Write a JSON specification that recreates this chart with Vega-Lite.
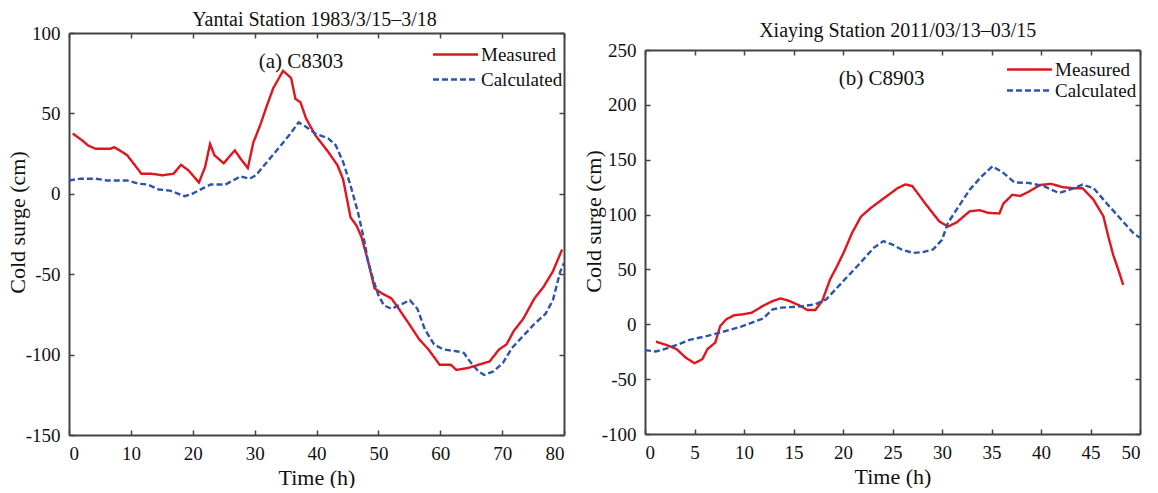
{
  "$schema": "https://vega.github.io/schema/vega-lite/v6.json",
  "padding": {"left": 6, "top": 10, "right": 5, "bottom": 0},
  "background": "white",
  "config": {
    "font": "Liberation Serif",
    "view": {"stroke": null},
    "axis": {"grid": false, "labelFont": "Liberation Serif", "labelFontSize": 19, "labelColor": "#111", "labelExpr": "replace(datum.label, '−', '-')", "titleFont": "Liberation Serif", "titleFontSize": 22, "titleFontWeight": "normal", "titleColor": "#111", "minExtent": 0},
    "axisX": {"titlePadding": 4},
    "axisY": {"titlePadding": -4},
    "title": {"font": "Liberation Serif", "fontSize": 20, "fontWeight": "normal", "color": "#111"},
    "legend": {"orient": "none", "title": null, "symbolType": "M-3,0H3", "symbolSize": 225, "symbolStrokeWidth": 2.4, "labelFont": "Liberation Serif", "labelFontSize": 19, "labelColor": "#111", "labelOffset": 16, "rowPadding": 5, "padding": 0}
  },
  "datasets": {
    "a": [
      {"t":0.6,"v":37.5,"s":"Measured"},{"t":2.2,"v":33,"s":"Measured"},{"t":3.1,"v":30,"s":"Measured"},{"t":4.3,"v":28,"s":"Measured"},{"t":6.7,"v":28,"s":"Measured"},{"t":7.3,"v":29,"s":"Measured"},{"t":8.2,"v":27,"s":"Measured"},{"t":9.4,"v":24,"s":"Measured"},{"t":10.6,"v":18,"s":"Measured"},{"t":11.7,"v":12.5,"s":"Measured"},{"t":13.3,"v":12.5,"s":"Measured"},{"t":15.1,"v":11.5,"s":"Measured"},{"t":16.9,"v":12.5,"s":"Measured"},{"t":18.1,"v":18,"s":"Measured"},{"t":19.3,"v":14.6,"s":"Measured"},{"t":21,"v":7,"s":"Measured"},{"t":22,"v":16.7,"s":"Measured"},{"t":22.8,"v":31,"s":"Measured"},{"t":23.5,"v":24,"s":"Measured"},{"t":25,"v":19,"s":"Measured"},{"t":26.8,"v":27,"s":"Measured"},{"t":27.7,"v":22,"s":"Measured"},{"t":28.9,"v":16,"s":"Measured"},{"t":29.8,"v":32,"s":"Measured"},{"t":30.9,"v":42.7,"s":"Measured"},{"t":32,"v":55,"s":"Measured"},{"t":33,"v":65.6,"s":"Measured"},{"t":34.6,"v":76.5,"s":"Measured"},{"t":35.9,"v":72,"s":"Measured"},{"t":36.6,"v":59,"s":"Measured"},{"t":37.4,"v":57,"s":"Measured"},{"t":38.3,"v":47,"s":"Measured"},{"t":39.8,"v":36.5,"s":"Measured"},{"t":41.9,"v":26,"s":"Measured"},{"t":43.4,"v":17.7,"s":"Measured"},{"t":44.3,"v":9,"s":"Measured"},{"t":45.5,"v":-14.6,"s":"Measured"},{"t":46.5,"v":-20,"s":"Measured"},{"t":47.3,"v":-27.2,"s":"Measured"},{"t":48.2,"v":-40,"s":"Measured"},{"t":49.4,"v":-58.9,"s":"Measured"},{"t":50.6,"v":-62,"s":"Measured"},{"t":52.1,"v":-65,"s":"Measured"},{"t":53.3,"v":-71.5,"s":"Measured"},{"t":54.8,"v":-80,"s":"Measured"},{"t":56.6,"v":-90.5,"s":"Measured"},{"t":58.1,"v":-96.8,"s":"Measured"},{"t":59.9,"v":-106.3,"s":"Measured"},{"t":61.7,"v":-106.3,"s":"Measured"},{"t":62.6,"v":-109.5,"s":"Measured"},{"t":64.4,"v":-108.4,"s":"Measured"},{"t":66.2,"v":-106.3,"s":"Measured"},{"t":68,"v":-104.2,"s":"Measured"},{"t":69.5,"v":-96.8,"s":"Measured"},{"t":70.7,"v":-93.7,"s":"Measured"},{"t":71.9,"v":-85.2,"s":"Measured"},{"t":73.4,"v":-77.8,"s":"Measured"},{"t":75.2,"v":-65.2,"s":"Measured"},{"t":76.7,"v":-57.8,"s":"Measured"},{"t":78.2,"v":-48.3,"s":"Measured"},{"t":79.7,"v":-34.6,"s":"Measured"},
      {"t":0,"v":8.3,"s":"Calculated"},{"t":1.9,"v":9.4,"s":"Calculated"},{"t":4.3,"v":9.4,"s":"Calculated"},{"t":6.1,"v":8.3,"s":"Calculated"},{"t":9.4,"v":8.3,"s":"Calculated"},{"t":11.2,"v":6.3,"s":"Calculated"},{"t":12.7,"v":5.8,"s":"Calculated"},{"t":14.5,"v":2.7,"s":"Calculated"},{"t":16.3,"v":2,"s":"Calculated"},{"t":18.7,"v":-1.5,"s":"Calculated"},{"t":19.9,"v":0,"s":"Calculated"},{"t":21.7,"v":3.5,"s":"Calculated"},{"t":22.9,"v":5.8,"s":"Calculated"},{"t":25.3,"v":5.8,"s":"Calculated"},{"t":26.5,"v":8.3,"s":"Calculated"},{"t":27.7,"v":10.8,"s":"Calculated"},{"t":29.2,"v":9.4,"s":"Calculated"},{"t":30.2,"v":11.5,"s":"Calculated"},{"t":32,"v":19.8,"s":"Calculated"},{"t":33.8,"v":28,"s":"Calculated"},{"t":35.6,"v":36.5,"s":"Calculated"},{"t":37.1,"v":44.4,"s":"Calculated"},{"t":38.3,"v":41.7,"s":"Calculated"},{"t":39.8,"v":37.5,"s":"Calculated"},{"t":41.9,"v":34.4,"s":"Calculated"},{"t":43.1,"v":30.2,"s":"Calculated"},{"t":44.3,"v":19.8,"s":"Calculated"},{"t":45.5,"v":5.2,"s":"Calculated"},{"t":46.7,"v":-11.5,"s":"Calculated"},{"t":47.9,"v":-32.3,"s":"Calculated"},{"t":48.2,"v":-40,"s":"Calculated"},{"t":49.1,"v":-52.5,"s":"Calculated"},{"t":50,"v":-63,"s":"Calculated"},{"t":50.9,"v":-69.4,"s":"Calculated"},{"t":52.1,"v":-71.5,"s":"Calculated"},{"t":53.3,"v":-69.4,"s":"Calculated"},{"t":55.1,"v":-66.2,"s":"Calculated"},{"t":56.3,"v":-71.5,"s":"Calculated"},{"t":57.5,"v":-84.2,"s":"Calculated"},{"t":59,"v":-93.7,"s":"Calculated"},{"t":60.5,"v":-96.8,"s":"Calculated"},{"t":62.6,"v":-97.9,"s":"Calculated"},{"t":63.8,"v":-98.9,"s":"Calculated"},{"t":65,"v":-105.3,"s":"Calculated"},{"t":66.2,"v":-110.5,"s":"Calculated"},{"t":67.1,"v":-112.7,"s":"Calculated"},{"t":68.6,"v":-110.5,"s":"Calculated"},{"t":70.1,"v":-105.3,"s":"Calculated"},{"t":71.6,"v":-95.8,"s":"Calculated"},{"t":73.4,"v":-88.4,"s":"Calculated"},{"t":75.2,"v":-81,"s":"Calculated"},{"t":77,"v":-74.7,"s":"Calculated"},{"t":78.2,"v":-66.2,"s":"Calculated"},{"t":79.4,"v":-48.3,"s":"Calculated"},{"t":80,"v":-43,"s":"Calculated"}
    ],
    "b": [
      {"t":1.1,"v":-15.8,"s":"Measured"},{"t":2.2,"v":-19,"s":"Measured"},{"t":3.2,"v":-22.7,"s":"Measured"},{"t":4.1,"v":-30.3,"s":"Measured"},{"t":5,"v":-35.5,"s":"Measured"},{"t":5.8,"v":-31.8,"s":"Measured"},{"t":6.3,"v":-22.7,"s":"Measured"},{"t":7.1,"v":-16.7,"s":"Measured"},{"t":7.6,"v":-1.5,"s":"Measured"},{"t":8.2,"v":4.5,"s":"Measured"},{"t":9,"v":8.2,"s":"Measured"},{"t":9.9,"v":9.1,"s":"Measured"},{"t":10.8,"v":10.6,"s":"Measured"},{"t":11.9,"v":16.7,"s":"Measured"},{"t":12.9,"v":21.2,"s":"Measured"},{"t":13.7,"v":23.6,"s":"Measured"},{"t":14.6,"v":21.2,"s":"Measured"},{"t":15.7,"v":16.7,"s":"Measured"},{"t":16.4,"v":13,"s":"Measured"},{"t":17.2,"v":13,"s":"Measured"},{"t":17.9,"v":21.2,"s":"Measured"},{"t":18.7,"v":41,"s":"Measured"},{"t":19.4,"v":53,"s":"Measured"},{"t":20.1,"v":66,"s":"Measured"},{"t":20.9,"v":83,"s":"Measured"},{"t":21.8,"v":98,"s":"Measured"},{"t":22.8,"v":106,"s":"Measured"},{"t":24.3,"v":116,"s":"Measured"},{"t":25.5,"v":124,"s":"Measured"},{"t":26.3,"v":127.5,"s":"Measured"},{"t":27,"v":126,"s":"Measured"},{"t":28.4,"v":109,"s":"Measured"},{"t":29.7,"v":94,"s":"Measured"},{"t":30.6,"v":89,"s":"Measured"},{"t":31.5,"v":93,"s":"Measured"},{"t":32.8,"v":103,"s":"Measured"},{"t":33.8,"v":104,"s":"Measured"},{"t":34.7,"v":101.5,"s":"Measured"},{"t":35.8,"v":101,"s":"Measured"},{"t":36.2,"v":110,"s":"Measured"},{"t":37.1,"v":118,"s":"Measured"},{"t":37.9,"v":117,"s":"Measured"},{"t":38.8,"v":121,"s":"Measured"},{"t":39.9,"v":127,"s":"Measured"},{"t":41,"v":128,"s":"Measured"},{"t":42.2,"v":125,"s":"Measured"},{"t":43.3,"v":124,"s":"Measured"},{"t":44.2,"v":124,"s":"Measured"},{"t":45.3,"v":113.6,"s":"Measured"},{"t":46.3,"v":98.5,"s":"Measured"},{"t":46.8,"v":80,"s":"Measured"},{"t":47.3,"v":63,"s":"Measured"},{"t":47.8,"v":50,"s":"Measured"},{"t":48.3,"v":36,"s":"Measured"},
      {"t":0,"v":-23.6,"s":"Calculated"},{"t":1.1,"v":-24.8,"s":"Calculated"},{"t":2.2,"v":-22,"s":"Calculated"},{"t":3.4,"v":-18.2,"s":"Calculated"},{"t":4.5,"v":-14.2,"s":"Calculated"},{"t":6.3,"v":-10.6,"s":"Calculated"},{"t":7.8,"v":-7,"s":"Calculated"},{"t":9.7,"v":-2.1,"s":"Calculated"},{"t":10.8,"v":1.5,"s":"Calculated"},{"t":11.9,"v":5.2,"s":"Calculated"},{"t":12.9,"v":13.6,"s":"Calculated"},{"t":13.8,"v":15.2,"s":"Calculated"},{"t":14.9,"v":15.8,"s":"Calculated"},{"t":16,"v":16.7,"s":"Calculated"},{"t":17.2,"v":18.2,"s":"Calculated"},{"t":18.3,"v":22.7,"s":"Calculated"},{"t":19.4,"v":33.3,"s":"Calculated"},{"t":20.5,"v":44,"s":"Calculated"},{"t":21.6,"v":54.5,"s":"Calculated"},{"t":23.1,"v":69.7,"s":"Calculated"},{"t":24.1,"v":75.8,"s":"Calculated"},{"t":25,"v":72.7,"s":"Calculated"},{"t":25.9,"v":68.2,"s":"Calculated"},{"t":27.1,"v":65,"s":"Calculated"},{"t":28.2,"v":66,"s":"Calculated"},{"t":29.1,"v":68.2,"s":"Calculated"},{"t":30,"v":77,"s":"Calculated"},{"t":30.6,"v":92.4,"s":"Calculated"},{"t":31.7,"v":107.6,"s":"Calculated"},{"t":32.8,"v":122.7,"s":"Calculated"},{"t":34,"v":134.8,"s":"Calculated"},{"t":35.1,"v":144,"s":"Calculated"},{"t":36.2,"v":138,"s":"Calculated"},{"t":37.3,"v":129.4,"s":"Calculated"},{"t":38.8,"v":128.8,"s":"Calculated"},{"t":40.3,"v":125.8,"s":"Calculated"},{"t":41.8,"v":119.7,"s":"Calculated"},{"t":42.9,"v":122.7,"s":"Calculated"},{"t":44.2,"v":127.3,"s":"Calculated"},{"t":45.3,"v":124.2,"s":"Calculated"},{"t":46.6,"v":110.6,"s":"Calculated"},{"t":48.1,"v":95.5,"s":"Calculated"},{"t":49.3,"v":83.3,"s":"Calculated"},{"t":50,"v":78.8,"s":"Calculated"}
    ]
  },
  "resolve": {"scale": {"color": "independent", "strokeDash": "independent"}},
  "spacing": 13,
  "hconcat": [
    {
      "width": 495, "height": 402,
      "title": {"text": "Yantai Station 1983/3/15–3/18", "offset": -6, "dx": -2},
      "layer": [
        {
          "data": {"name": "a"},
          "mark": {"type": "line", "strokeWidth": 2.4},
          "encoding": {
            "x": {"field": "t", "type": "quantitative", "scale": {"domain": [0, 80], "nice": false}, "axis": {"values": [0,10,20,30,40,50,60,70,80], "title": "Time (h)", "domain": true, "domainColor": "#444", "domainWidth": 2, "ticks": true, "tickSize": -5, "tickColor": "#444", "tickWidth": 1.5, "labelPadding": 14}},
            "y": {"field": "v", "type": "quantitative", "scale": {"domain": [-150, 100], "nice": false}, "axis": {"values": [-150,-100,-50,0,50,100], "title": "Cold surge (cm)", "titleY": 189, "domain": true, "domainColor": "#444", "domainWidth": 2, "ticks": true, "tickSize": -5, "tickColor": "#444", "tickWidth": 1.5, "labelPadding": 14}},
            "color": {"field": "s", "type": "nominal", "scale": {"domain": ["Measured", "Calculated"], "range": ["#e0161f", "#2c53ad"]}, "legend": {"legendX": 377, "legendY": 12}},
            "strokeDash": {"field": "s", "type": "nominal", "scale": {"domain": ["Measured", "Calculated"], "range": [[1, 0], [6, 3]]}, "legend": {"legendX": 377, "legendY": 12}}
          }
        },
        {
          "data": {"values": [{"t": 37.5, "v": 82, "label": "(a) C8303"}]},
          "mark": {"type": "text", "fontSize": 21, "font": "Liberation Serif", "color": "#111"},
          "encoding": {
            "x": {"field": "t", "type": "quantitative", "axis": {"orient": "top", "labels": false, "title": null, "values": [0,10,20,30,40,50,60,70,80], "domain": true, "domainColor": "#444", "domainWidth": 2, "ticks": true, "tickSize": -5, "tickColor": "#444", "tickWidth": 1.5}},
            "y": {"field": "v", "type": "quantitative", "axis": {"orient": "right", "labels": false, "title": null, "values": [-150,-100,-50,0,50,100], "domain": true, "domainColor": "#444", "domainWidth": 2, "ticks": true, "tickSize": -5, "tickColor": "#444", "tickWidth": 1.5}},
            "text": {"field": "label"}
          }
        }
      ],
      "resolve": {"axis": {"x": "independent", "y": "independent"}}
    },
    {
      "title": {"text": "Xiaying Station 2011/03/13–03/15", "offset": -8, "anchor": "start", "dx": 177},
      "resolve": {"scale": {"color": "independent", "strokeDash": "independent"}},
      "spacing": 0,
      "vconcat": [
        {
          "width": 495, "height": 8,
          "view": {"stroke": null},
          "data": {"values": []},
          "mark": "point"
        },
        {
          "width": 495, "height": 384,
          "layer": [
            {
              "data": {"name": "b"},
              "mark": {"type": "line", "strokeWidth": 2.4},
              "encoding": {
                "x": {"field": "t", "type": "quantitative", "scale": {"domain": [0, 50], "nice": false}, "axis": {"values": [0,5,10,15,20,25,30,35,40,45,50], "title": "Time (h)", "domain": true, "domainColor": "#444", "domainWidth": 2, "ticks": true, "tickSize": -5, "tickColor": "#444", "tickWidth": 1.5, "labelPadding": 14}},
                "y": {"field": "v", "type": "quantitative", "scale": {"domain": [-100, 250], "nice": false}, "axis": {"values": [-100,-50,0,50,100,150,200,250], "title": "Cold surge (cm)", "titleY": 171, "domain": true, "domainColor": "#444", "domainWidth": 2, "ticks": true, "tickSize": -5, "tickColor": "#444", "tickWidth": 1.5, "labelPadding": 14}},
                "color": {"field": "s", "type": "nominal", "scale": {"domain": ["Measured", "Calculated"], "range": ["#e0161f", "#2c53ad"]}, "legend": {"legendX": 375, "legendY": 10, "rowPadding": 1}},
                "strokeDash": {"field": "s", "type": "nominal", "scale": {"domain": ["Measured", "Calculated"], "range": [[1, 0], [6, 3]]}, "legend": {"legendX": 375, "legendY": 10, "rowPadding": 1}}
              }
            },
            {
              "data": {"values": [{"t": 23.9, "v": 224, "label": "(b) C8903"}]},
              "mark": {"type": "text", "fontSize": 21, "font": "Liberation Serif", "color": "#111"},
              "encoding": {
                "x": {"field": "t", "type": "quantitative", "axis": {"orient": "top", "labels": false, "title": null, "values": [0,5,10,15,20,25,30,35,40,45,50], "domain": true, "domainColor": "#444", "domainWidth": 2, "ticks": true, "tickSize": -5, "tickColor": "#444", "tickWidth": 1.5}},
                "y": {"field": "v", "type": "quantitative", "axis": {"orient": "right", "labels": false, "title": null, "values": [-100,-50,0,50,100,150,200,250], "domain": true, "domainColor": "#444", "domainWidth": 2, "ticks": true, "tickSize": -5, "tickColor": "#444", "tickWidth": 1.5}},
                "text": {"field": "label"}
              }
            }
          ],
          "resolve": {"axis": {"x": "independent", "y": "independent"}}
        }
      ]
    }
  ]
}
